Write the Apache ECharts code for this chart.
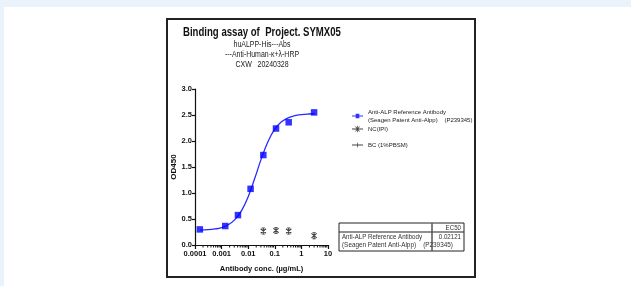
<!DOCTYPE html>
<html><head><meta charset="utf-8">
<script src="https://cdn.jsdelivr.net/npm/echarts@6/dist/echarts.min.js"></script>
<style>html,body{margin:0;padding:0;background:#fff}#c{width:631px;height:286px}</style>
</head><body><div id="c"></div>
<script>
// ---- data ----
const concRef = [0.000152, 0.00137, 0.00412, 0.0123, 0.037, 0.111, 0.333, 3];
const odRef   = [0.30, 0.365, 0.575, 1.08, 1.73, 2.24, 2.36, 2.55];
const concNC  = [0.037, 0.111, 0.333, 3];
const odNC    = [0.27, 0.28, 0.27, 0.18];
const concBC  = [];
const odBC    = [];
// fitted curve
const curveX = [0.000158, 0.000316, 0.000562, 0.001, 0.00178, 0.00316, 0.00562, 0.01, 0.0178, 0.0316, 0.0562, 0.1, 0.178, 0.316, 0.562, 1, 1.78, 3.16];
const curveY = [0.286, 0.294, 0.309, 0.336, 0.39, 0.488, 0.661, 0.93, 1.288, 1.671, 1.997, 2.228, 2.368, 2.446, 2.487, 2.508, 2.519, 2.524];
const xMinorTicks = [];
[0.0001, 0.001, 0.01, 0.1, 1].forEach(d => { for (let k = 2; k <= 9; k++) xMinorTicks.push(+(d * k).toPrecision(2)); });
const ec50Name = ['Anti-ALP Reference Antibody', '(Seagen Patent Anti-Alpp)    (P239345)'];
const ec50Value = '0.02121';

const FONT = 'Arial, "Liberation Sans", sans-serif';
const nameRef = 'Anti-ALP Reference Antibody\n(Seagen Patent Anti-Alpp)    (P239345)';
const nameNC = 'NC(IPI)';
const nameBC = 'BC (1%PBSM)';
const starPath = 'path://M4.2,0H5.8V10H4.2Z M0.4,2.4L1.5,1.1L9.6,7.6L8.5,8.9Z M8.5,1.1L9.6,2.4L1.5,8.9L0.4,7.6Z M2.5,0H7.5V1.1H2.5Z M2.5,8.9H7.5V10H2.5Z';

function txt(x, y, text, font, opts) {
  return Object.assign({type: 'text', x: x, y: y, scaleX: 0.82, silent: true,
    style: Object.assign({text: text, font: font, fill: '#222', textVerticalAlign: 'middle'}, (opts && opts.style) || {})},
    opts && opts.el || {});
}

const chart = echarts.init(document.getElementById('c'), null, {renderer: 'canvas'});
chart.setOption({
  animation: false,
  backgroundColor: '#fff',
  textStyle: {fontFamily: FONT},
  grid: {left: 195, top: 89, width: 133, height: 156, containLabel: false},
  xAxis: {
    type: 'log', logBase: 10, min: 0.0001, max: 10,
    name: 'Antibody conc. (µg/mL)', nameLocation: 'middle', nameGap: 20,
    nameTextStyle: {fontFamily: FONT, fontSize: 7.5, fontWeight: 'bold', color: '#111'},
    axisLine: {show: true, onZero: false, lineStyle: {color: '#111', width: 1.2}},
    axisTick: {show: true, inside: false, length: 4, lineStyle: {color: '#111', width: 1.2}},
    axisLabel: {fontFamily: FONT, fontSize: 7.5, fontWeight: 'bold', color: '#111', margin: 5,
      interval: 0, showMinLabel: true, showMaxLabel: true, hideOverlap: false,
      formatter: v => String(+(+v).toPrecision(1))},
    splitLine: {show: false}
  },
  yAxis: {
    type: 'value', min: 0, max: 3, interval: 0.5,
    name: 'OD450', nameLocation: 'middle', nameGap: 14,
    nameTextStyle: {fontFamily: FONT, fontSize: 8, fontWeight: 'bold', color: '#111'},
    axisLine: {show: true, lineStyle: {color: '#111', width: 1.2}},
    axisTick: {show: true, inside: false, length: 3, lineStyle: {color: '#111', width: 1.2}},
    axisLabel: {fontFamily: FONT, fontSize: 7.5, fontWeight: 'bold', color: '#111', margin: 3,
      formatter: v => v.toFixed(1)},
    splitLine: {show: false}
  },
  legend: [{
    orient: 'vertical', left: 352, top: 108, padding: 0, itemWidth: 11, itemHeight: 7, itemGap: 1,
    textStyle: {fontFamily: FONT, fontSize: 6, color: '#222', lineHeight: 8},
    data: [
      {name: nameRef, icon: 'path://M0,3H4V1H8V3H12V4H8V6H4V4H0Z'},
      {name: nameNC, icon: 'path://M0,3H12V4H0Z M5.6,0H6.4V7H5.6Z M3.5,1L4.1,0.4L8.5,6L7.9,6.6Z M7.9,0.4L8.5,1L4.1,6.6L3.5,6Z'}
    ]
  }, {
    orient: 'vertical', left: 352, top: 141, padding: 0, itemWidth: 11, itemHeight: 7,
    textStyle: {fontFamily: FONT, fontSize: 6, color: '#222', lineHeight: 8},
    data: [{name: nameBC, icon: 'path://M0,3H12V4H0Z M5.6,1H6.4V6H5.6Z'}]
  }],
  series: [
    {type: 'line', name: 'fit', data: curveX.map((x, i) => [x, curveY[i]]), smooth: 0.4,
      showSymbol: false, lineStyle: {color: '#2a2aff', width: 1.3}, silent: true, z: 2},
    {type: 'scatter', name: nameRef, data: concRef.map((x, i) => [x, odRef[i]]),
      symbol: 'rect', symbolSize: 6.5, itemStyle: {color: '#0000ff'}, z: 3},
    {type: 'scatter', name: nameNC, data: concNC.map((x, i) => [x, odNC[i]]),
      symbol: starPath, symbolSize: [6, 7], itemStyle: {color: '#111'}, z: 3},
    {type: 'scatter', name: nameBC, data: concBC.map((x, i) => [x, odBC[i]]),
      symbol: 'path://M0,4.5H10V5.5H0Z M4.5,0H5.5V10H4.5Z', symbolSize: 7, itemStyle: {color: '#111'}},
    {type: 'custom', name: 'minor', silent: true, z: 4,
      data: xMinorTicks.map(v => [v, 0]),
      renderItem: (params, api) => {
        const p = api.coord([api.value(0), 0]);
        return {type: 'line', shape: {x1: p[0], y1: p[1], x2: p[0], y2: p[1] + 2.5},
          style: {stroke: '#111', lineWidth: 1}};
      }}
  ],
  graphic: [
    {type: 'rect', left: 0, top: 0, shape: {width: 631, height: 7}, style: {fill: '#EAF3FC'}, silent: true},
    {type: 'rect', left: 0, top: 0, shape: {width: 4, height: 286}, style: {fill: '#EAF3FC'}, silent: true},
    {type: 'rect', shape: {x: 167, y: 19, width: 308, height: 258}, style: {fill: 'none', stroke: '#222', lineWidth: 2}, silent: true},
    txt(183, 33, 'Binding assay of  Project. SYMX05', 'bold 12px ' + FONT, {el: {scaleX: 0.8}, style: {fill: '#111'}}),
    txt(262, 45, 'huALPP-His---Abs', '8.5px ' + FONT, {style: {textAlign: 'center'}}),
    txt(262, 55, '---Anti-Human-κ+λ-HRP', '8.5px ' + FONT, {style: {textAlign: 'center'}}),
    txt(262, 64.5, 'CXW   20240328', '8.5px ' + FONT, {style: {textAlign: 'center'}}),
    // EC50 table
    {type: 'rect', shape: {x: 339, y: 223, width: 125, height: 28}, style: {fill: 'none', stroke: '#222', lineWidth: 1}, silent: true},
    {type: 'line', shape: {x1: 339, y1: 232, x2: 464, y2: 232}, style: {stroke: '#222', lineWidth: 1}, silent: true},
    {type: 'line', shape: {x1: 432, y1: 223, x2: 432, y2: 251}, style: {stroke: '#555', lineWidth: 1.5}, silent: true},
    txt(461, 227.5, 'EC50', '7.5px ' + FONT, {style: {textAlign: 'right', fill: '#333'}}),
    txt(342, 236.5, ec50Name[0], '7.5px ' + FONT, {style: {fill: '#333'}}),
    txt(342, 244.5, ec50Name[1], '7.5px ' + FONT, {el: {scaleX: 0.85}, style: {fill: '#333'}}),
    txt(461, 236.5, ec50Value, '7.5px ' + FONT, {style: {textAlign: 'right', fill: '#333'}})
  ]
});
</script></body></html>
